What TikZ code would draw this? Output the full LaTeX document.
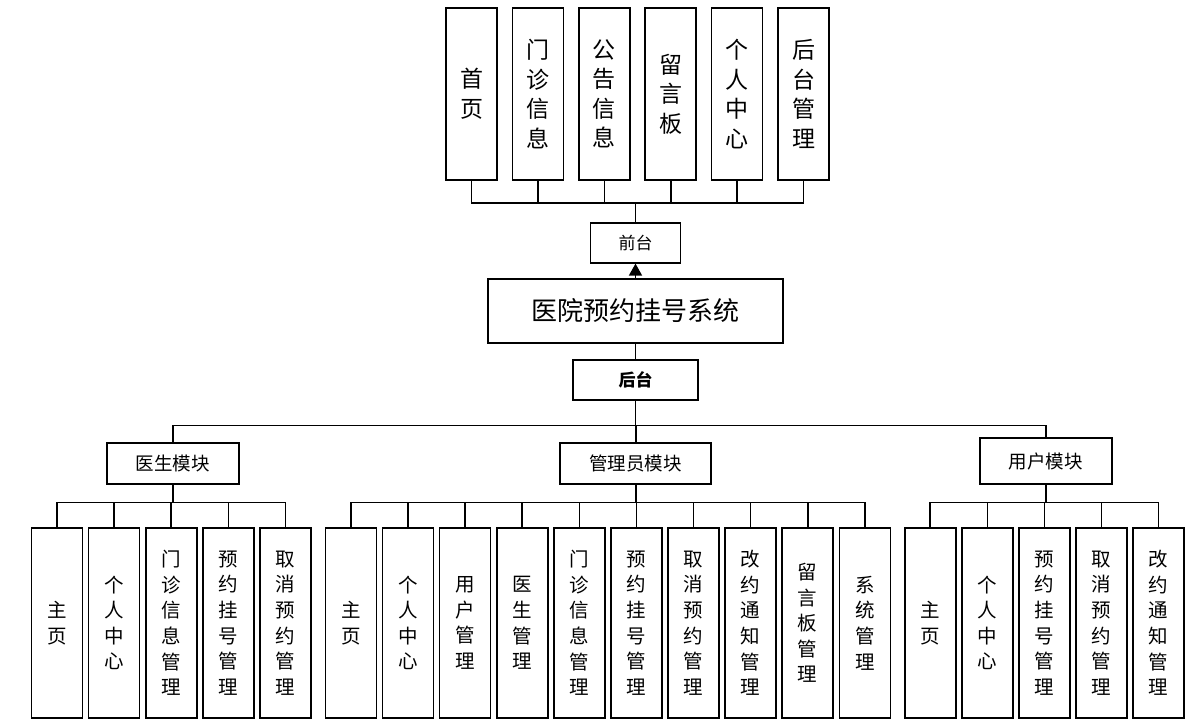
\documentclass[tikz,border=0pt]{standalone}
\usepackage{fontspec}
\newfontfamily\cjk{Noto Sans CJK SC}
\usetikzlibrary{arrows.meta,positioning}

\begin{document}
\begin{tikzpicture}[
 x=1pt,y=1pt,
 line width=1.6pt,
 node distance=4.5pt,
 box/.style={draw,line width=1.6pt,inner sep=0pt,align=center,font=\cjk},
 topbox/.style={box,minimum width=51pt,minimum height=172pt,font=\cjk\fontsize{23}{29.5}\selectfont},
 leaf/.style={box,minimum width=51pt,minimum height=190pt,font=\cjk\fontsize{19.5}{25.6}\selectfont},
 module/.style={box,minimum height=41pt,font=\cjk\fontsize{18.5}{22}\selectfont},
]
\useasboundingbox (0,0) rectangle (1187,728);
% front end pages
\node[topbox] (t1) at (471.5,634) {首\\页};
\node[topbox,right=13.8pt of t1] (t2) {门\\诊\\信\\息};
\node[topbox,right=13.8pt of t2] (t3) {公\\告\\信\\息};
\node[topbox,right=13.8pt of t3] (t4) {留\\言\\板};
\node[topbox,right=13.8pt of t4] (t5) {个\\人\\中\\心};
\node[topbox,right=13.8pt of t5] (t6) {后\\台\\管\\理};
% system, front and back
\node[box,minimum width=295pt,minimum height=64pt,font=\cjk\fontsize{26}{30}\selectfont] (sys) at (635.5,417) {医院预约挂号系统};
\node[box,minimum width=90pt,minimum height=40pt,font=\cjk\fontsize{17}{20}\selectfont,above=14.6pt of sys] (qt) {前台};
\node[box,minimum width=125pt,minimum height=40pt,font=\cjk\bfseries\fontsize{17}{20}\selectfont,below=15.4pt of sys] (ht) {后台};
% modules
\node[module,minimum width=132pt] (dm) at (172.7,264.5) {医生模块};
\node[module,minimum width=151pt] (am) at (635.7,264.5) {管理员模块};
\node[module,minimum width=132pt,minimum height=46pt] (um) at (1045.8,267) {用户模块};
% doctor
\node[leaf] (d1) at (57,105) {主\\页};
\node[leaf,right=of d1] (d2) {个\\人\\中\\心};
\node[leaf,right=of d2] (d3) {门\\诊\\信\\息\\管\\理};
\node[leaf,right=of d3] (d4) {预\\约\\挂\\号\\管\\理};
\node[leaf,right=of d4] (d5) {取\\消\\预\\约\\管\\理};
% admin
\node[leaf] (a1) at (350.9,105) {主\\页};
\node[leaf,right=of a1] (a2) {个\\人\\中\\心};
\node[leaf,right=of a2] (a3) {用\\户\\管\\理};
\node[leaf,right=of a3] (a4) {医\\生\\管\\理};
\node[leaf,right=of a4] (a5) {门\\诊\\信\\息\\管\\理};
\node[leaf,right=of a5] (a6) {预\\约\\挂\\号\\管\\理};
\node[leaf,right=of a6] (a7) {取\\消\\预\\约\\管\\理};
\node[leaf,right=of a7] (a8) {改\\约\\通\\知\\管\\理};
\node[leaf,right=of a8] (a9) {留\\言\\板\\管\\理};
\node[leaf,right=of a9] (a10) {系\\统\\管\\理};
% user
\node[leaf] (u1) at (930.2,105) {主\\页};
\node[leaf,right=of u1] (u2) {个\\人\\中\\心};
\node[leaf,right=of u2] (u3) {预\\约\\挂\\号\\管\\理};
\node[leaf,right=of u3] (u4) {取\\消\\预\\约\\管\\理};
\node[leaf,right=of u4] (u5) {改\\约\\通\\知\\管\\理};
% buses
\coordinate (topbus) at (0,525);
\coordinate (mainbus) at (0,302.3);
\coordinate (subbus) at (0,225.3);
\draw (t1.south) |- (t6.south |- topbus) -- (t6.south);
\draw (t2.south) -- (t2.south |- topbus) (t3.south) -- (t3.south |- topbus)
      (t4.south) -- (t4.south |- topbus) (t5.south) -- (t5.south |- topbus);
\draw (qt.north) -- (qt.north |- topbus);
\draw[-{Triangle[length=12pt,width=13pt]}] (sys.north) -- (qt.south);
\draw (sys.south) -- (ht.north);
\draw (ht.south) -- (ht.south |- mainbus);
\draw (dm.north) |- (um.north |- mainbus) -- (um.north);
\draw (am.north) -- (am.north |- mainbus);
\draw (d1.north) |- (d5.north |- subbus) -- (d5.north);
\draw (dm.south) -- (dm.south |- subbus) (d2.north) -- (d2.north |- subbus)
      (d3.north) -- (d3.north |- subbus) (d4.north) -- (d4.north |- subbus);
\draw (a1.north) |- (a10.north |- subbus) -- (a10.north);
\draw (am.south) -- (am.south |- subbus) (a2.north) -- (a2.north |- subbus)
      (a3.north) -- (a3.north |- subbus) (a4.north) -- (a4.north |- subbus)
      (a5.north) -- (a5.north |- subbus) (a6.north) -- (a6.north |- subbus)
      (a7.north) -- (a7.north |- subbus) (a8.north) -- (a8.north |- subbus)
      (a9.north) -- (a9.north |- subbus);
\draw (u1.north) |- (u5.north |- subbus) -- (u5.north);
\draw (um.south) -- (um.south |- subbus) (u2.north) -- (u2.north |- subbus)
      (u3.north) -- (u3.north |- subbus) (u4.north) -- (u4.north |- subbus);
\end{tikzpicture}
\end{document}
